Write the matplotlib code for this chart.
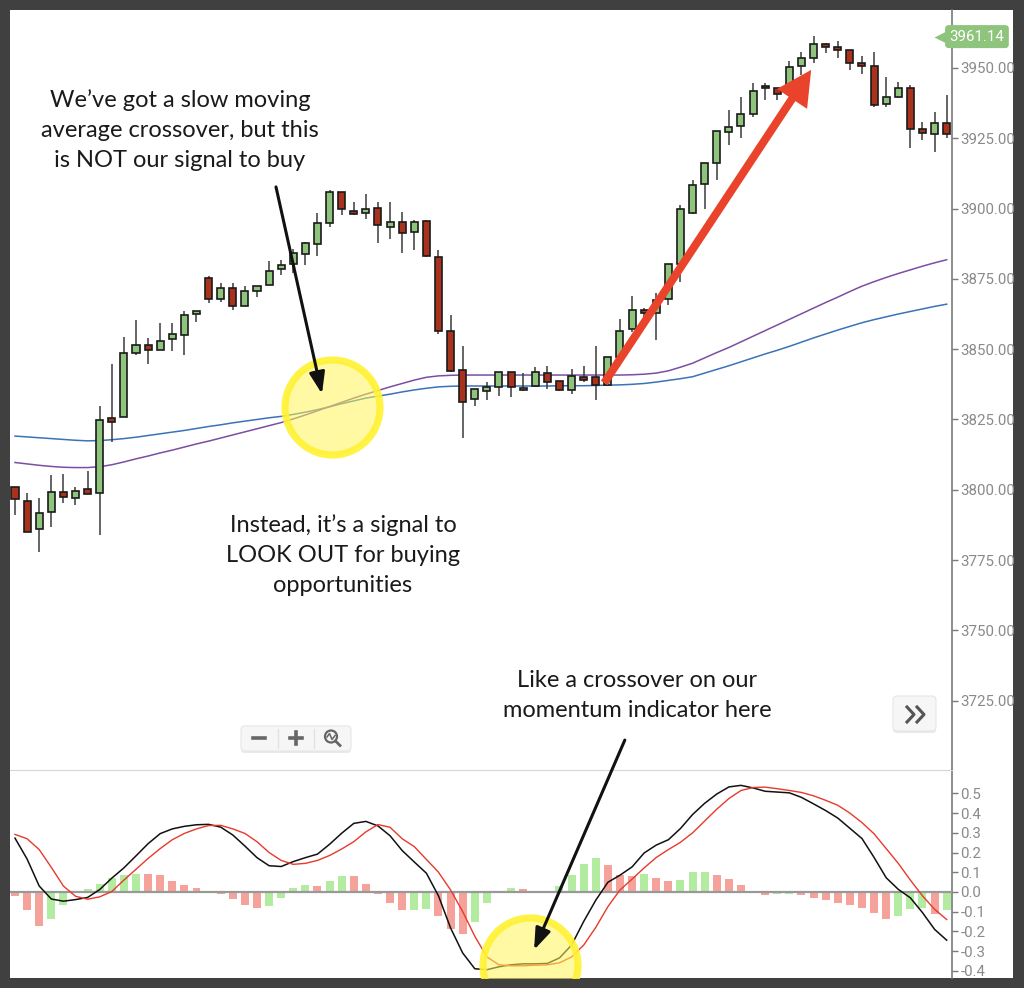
import numpy as np
import matplotlib
matplotlib.use("Agg")
import matplotlib.pyplot as plt
from matplotlib import patches, transforms
from matplotlib.lines import Line2D
from matplotlib.ticker import FormatStrFormatter

plt.rcParams['font.family'] = ['Lato', 'DejaVu Sans']
plt.rcParams['axes.unicode_minus'] = False

# --- price candles ---
opens = [3801.1, 3796.1, 3786.0, 3792.0, 3799.1, 3797.0, 3800.2, 3799.0, 3825.4, 3825.8,
         3848.5, 3851.5, 3849.7, 3853.5, 3855.0, 3862.4, 3875.4, 3867.7, 3871.9, 3865.4,
         3870.8, 3872.8, 3878.5, 3880.3, 3883.9, 3887.4, 3894.8, 3905.8, 3899.3, 3898.5,
         3900.1, 3893.6, 3895.1, 3891.6, 3895.6, 3882.9, 3856.3, 3842.6, 3832.2, 3835.3,
         3836.7, 3841.8, 3835.5, 3836.9, 3841.7, 3838.7, 3835.5, 3840.0, 3840.0, 3837.3,
         3847.1, 3857.1, 3863.9, 3863.0, 3867.7, 3880.3, 3898.5, 3908.7, 3916.3, 3927.3,
         3929.5, 3933.5, 3943.6, 3942.8, 3943.6, 3950.7, 3953.4, 3958.4, 3957.6, 3956.4,
         3951.9, 3950.8, 3937.1, 3939.6, 3942.8, 3928.2, 3926.4, 3930.5]
highs = [3801.1, 3798.8, 3797.0, 3805.2, 3805.5, 3801.1, 3806.7, 3829.9, 3844.6, 3854.5,
         3860.4, 3853.9, 3859.2, 3859.2, 3863.7, 3863.4, 3876.0, 3873.4, 3873.4, 3872.6,
         3872.5, 3881.4, 3881.7, 3885.5, 3888.2, 3898.5, 3906.6, 3905.8, 3902.5, 3905.1,
         3902.5, 3902.5, 3898.9, 3895.9, 3895.9, 3885.3, 3862.2, 3851.1, 3836.0, 3838.4,
         3841.8, 3842.0, 3841.4, 3843.6, 3844.0, 3838.7, 3842.9, 3844.0, 3851.1, 3847.3,
         3860.6, 3868.9, 3864.8, 3869.9, 3880.2, 3901.3, 3910.2, 3916.3, 3927.6, 3935.1,
         3939.6, 3944.6, 3944.6, 3942.8, 3952.6, 3955.6, 3961.4, 3959.0, 3959.7, 3956.4,
         3954.3, 3955.6, 3946.7, 3945.1, 3944.0, 3930.9, 3934.5, 3940.4]
lows = [3791.0, 3784.9, 3778.0, 3786.7, 3795.2, 3794.6, 3798.5, 3783.9, 3816.9, 3825.8,
        3847.9, 3844.7, 3849.7, 3849.4, 3847.9, 3859.8, 3866.3, 3866.9, 3863.9, 3865.4,
        3868.7, 3872.8, 3876.4, 3877.0, 3880.0, 3883.1, 3893.3, 3897.7, 3897.7, 3896.2,
        3887.7, 3889.2, 3884.1, 3885.3, 3882.7, 3855.4, 3841.8, 3818.3, 3829.8, 3831.9,
        3833.4, 3833.0, 3835.3, 3836.7, 3836.0, 3835.3, 3834.1, 3838.5, 3831.9, 3837.0,
        3846.0, 3856.2, 3861.6, 3853.3, 3865.7, 3874.0, 3898.0, 3899.8, 3910.0, 3922.6,
        3925.0, 3932.7, 3938.6, 3938.6, 3943.6, 3947.5, 3951.9, 3955.4, 3953.4, 3949.3,
        3947.9, 3936.2, 3936.2, 3939.2, 3921.4, 3924.4, 3920.0, 3925.0]
closes = [3796.6, 3784.9, 3791.6, 3799.1, 3797.6, 3799.6, 3798.5, 3824.8, 3824.2, 3848.5,
          3851.5, 3849.7, 3853.0, 3855.3, 3862.2, 3863.4, 3867.7, 3871.9, 3865.5, 3870.8,
          3872.5, 3877.9, 3879.9, 3884.1, 3887.7, 3894.8, 3905.8, 3899.8, 3898.1, 3899.8,
          3894.2, 3895.1, 3891.2, 3895.1, 3883.2, 3856.6, 3842.4, 3831.3, 3835.7, 3836.5,
          3841.8, 3836.7, 3836.3, 3841.8, 3838.5, 3835.5, 3840.6, 3839.0, 3837.3, 3847.1,
          3856.6, 3863.9, 3862.8, 3867.5, 3880.2, 3899.8, 3908.4, 3916.3, 3927.6, 3929.1,
          3933.6, 3941.8, 3942.8, 3940.8, 3950.2, 3953.4, 3958.4, 3957.4, 3956.4, 3951.7,
          3950.7, 3936.8, 3939.6, 3942.8, 3928.4, 3927.0, 3930.5, 3926.4]

# moving averages
ma_blue = [3819.1, 3818.8, 3818.5, 3818.2, 3817.9, 3817.6, 3817.4, 3817.5, 3817.8, 3818.2,
           3818.7, 3819.3, 3819.9, 3820.5, 3821.1, 3821.8, 3822.5, 3823.1, 3823.8, 3824.4,
           3825.0, 3825.6, 3826.1, 3826.8, 3827.6, 3828.5, 3829.5, 3830.6, 3831.6, 3832.6,
           3833.3, 3834.0, 3834.8, 3835.5, 3836.1, 3836.6, 3836.8, 3836.9, 3836.9, 3836.9,
           3836.9, 3836.9, 3836.9, 3836.9, 3836.9, 3837.0, 3837.0, 3837.0, 3837.1, 3837.2,
           3837.3, 3837.5, 3837.8, 3838.3, 3838.9, 3839.5, 3840.2, 3841.5, 3842.8, 3844.1,
           3845.5, 3846.9, 3848.3, 3849.6, 3851.0, 3852.5, 3854.0, 3855.4, 3856.8, 3858.1,
           3859.4, 3860.5, 3861.5, 3862.5, 3863.4, 3864.3, 3865.2, 3866.0]
ma_purple = [3809.7, 3809.2, 3808.7, 3808.3, 3808.0, 3807.9, 3807.9, 3808.2, 3808.9, 3809.9,
             3811.0, 3812.0, 3813.1, 3814.1, 3815.2, 3816.3, 3817.3, 3818.4, 3819.5, 3820.6,
             3821.7, 3822.8, 3823.9, 3825.2, 3826.6, 3828.1, 3829.6, 3831.1, 3832.6, 3834.0,
             3835.3, 3836.6, 3837.8, 3839.0, 3840.0, 3840.5, 3840.7, 3840.8, 3840.8, 3840.8,
             3840.8, 3840.8, 3840.8, 3840.8, 3840.8, 3840.8, 3840.8, 3840.8, 3840.8, 3840.8,
             3840.8, 3840.9, 3841.1, 3841.5, 3842.3, 3843.6, 3845.0, 3846.9, 3848.8, 3850.6,
             3852.6, 3854.6, 3856.6, 3858.6, 3860.6, 3862.6, 3864.6, 3866.6, 3868.5, 3870.5,
             3872.4, 3874.0, 3875.5, 3876.9, 3878.2, 3879.5, 3880.7, 3881.8]

# momentum panel
macd = [0.273, 0.167, 0.030, -0.036, -0.047, -0.039, -0.028, 0.012, 0.070, 0.122,
        0.183, 0.245, 0.296, 0.320, 0.333, 0.341, 0.343, 0.329, 0.289, 0.233,
        0.174, 0.133, 0.129, 0.154, 0.174, 0.192, 0.242, 0.298, 0.348, 0.358,
        0.335, 0.285, 0.210, 0.152, 0.095, -0.020, -0.183, -0.310, -0.390, -0.395,
        -0.380, -0.370, -0.365, -0.365, -0.363, -0.335, -0.270, -0.150, -0.042, 0.049,
        0.085, 0.127, 0.198, 0.238, 0.265, 0.322, 0.393, 0.450, 0.497, 0.533,
        0.541, 0.528, 0.511, 0.507, 0.503, 0.480, 0.447, 0.413, 0.375, 0.323,
        0.271, 0.175, 0.072, 0.013, -0.030, -0.105, -0.190, -0.245]
signal = [0.292, 0.270, 0.215, 0.125, 0.030, -0.022, -0.037, -0.025, 0.002, 0.060,
          0.115, 0.170, 0.220, 0.265, 0.297, 0.320, 0.337, 0.338, 0.320, 0.297,
          0.255, 0.200, 0.160, 0.140, 0.145, 0.160, 0.185, 0.218, 0.255, 0.305,
          0.342, 0.328, 0.270, 0.230, 0.165, 0.100, 0.010, -0.100, -0.225, -0.330,
          -0.370, -0.375, -0.375, -0.372, -0.370, -0.360, -0.330, -0.270, -0.180, -0.075,
          0.010, 0.065, 0.122, 0.175, 0.215, 0.252, 0.300, 0.360, 0.420, 0.474,
          0.515, 0.530, 0.532, 0.524, 0.515, 0.505, 0.488, 0.465, 0.440, 0.400,
          0.352, 0.295, 0.220, 0.145, 0.060, -0.020, -0.088, -0.140]
hist = [-0.022, -0.093, -0.173, -0.135, -0.064, -0.004, 0.014, 0.042, 0.071, 0.085,
        0.093, 0.092, 0.085, 0.056, 0.034, 0.020, 0.007, -0.008, -0.037, -0.064,
        -0.080, -0.073, -0.030, 0.020, 0.034, 0.029, 0.056, 0.080, 0.079, 0.042,
        -0.008, -0.056, -0.093, -0.091, -0.086, -0.122, -0.186, -0.216, -0.152, -0.057,
        0.006, 0.019, 0.013, 0.002, 0.001, 0.029, 0.085, 0.144, 0.173, 0.135,
        0.085, 0.080, 0.093, 0.071, 0.056, 0.063, 0.100, 0.101, 0.085, 0.064,
        0.034, 0.000, -0.015, -0.012, -0.008, -0.015, -0.030, -0.042, -0.056, -0.064,
        -0.080, -0.107, -0.137, -0.122, -0.085, -0.080, -0.110, -0.093]

price_ticks = [3725, 3750, 3775, 3800, 3825, 3850, 3875, 3900, 3925, 3950]
macd_ticks = [-0.4, -0.3, -0.2, -0.1, 0.0, 0.1, 0.2, 0.3, 0.4, 0.5]
last_price = 3961.14

# annotation anchors (candle index, value)
ma_cross = (26.2, 3829.3)
macd_cross = (42.6, -0.37)

GREEN = '#8fc47c'
RED = '#a9321c'
W, H = 1024, 988

fig = plt.figure(figsize=(W / 100, H / 100), dpi=100, facecolor='#404040')
px = transforms.Affine2D().scale(1 / W, -1 / H).translate(0, 1) + fig.transFigure
fig.patches.append(patches.Rectangle((10, 10), 1003, 968, transform=px,
                                     fc='white', ec='none', zorder=-1))

ax = fig.add_axes([10 / W, 1 - 770 / H, 942 / W, 760 / H])
axm = fig.add_axes([10 / W, 10 / H, 942 / W, 208 / H], sharex=ax)

x = np.arange(len(opens))
o, h, l, c = map(np.array, (opens, highs, lows, closes))
up = c >= o

# candles
ax.plot(x, ma_blue, color='#3b72b8', lw=1.1, zorder=1.5)
ax.plot(x, ma_purple, color='#7b4ea2', lw=1.1, zorder=1.5)
ax.vlines(x, l, h, color='#3a3a3a', lw=1.1, zorder=2)
ax.bar(x, np.maximum(np.abs(c - o), 0.8), bottom=np.minimum(o, c), width=0.58,
       color=np.where(up, GREEN, RED), edgecolor='#1a1a1a', linewidth=1.2, zorder=3)

# momentum
hv = np.array(hist)
rising = np.diff(hv, prepend=np.inf) >= 0
axm.bar(x, hv, width=0.66, color=np.where(rising, '#b3eba0', '#f5a29b'), zorder=2)
axm.axhline(0, color='#999999', lw=1.6, zorder=3)
axm.plot(x, macd, color='#111111', lw=1.1, zorder=4)
axm.plot(x, signal, color='#e8392b', lw=1.0, zorder=4)

ax.set_xlim(-0.413, 77.44)
ax.set_ylim(3700.36, 3970.6)
axm.set_ylim(-0.437, 0.619)

for a, ticks, fmt in ((ax, price_ticks, '%.2f'), (axm, macd_ticks, '%.1f')):
    a.set_facecolor('none')
    for s in ('top', 'left', 'bottom'):
        a.spines[s].set_visible(False)
    a.spines['right'].set_color('#7a7a7a')
    a.spines['right'].set_linewidth(1.2)
    a.yaxis.tick_right()
    a.set_yticks(ticks)
    a.yaxis.set_major_formatter(FormatStrFormatter(fmt))
    a.tick_params(axis='y', length=4, width=1, color='#7a7a7a', labelcolor='#8a8a8a',
                  labelsize=10.8, pad=2, labelfontfamily='Roboto')
    a.tick_params(axis='x', bottom=False, labelbottom=False)
axm.spines['top'].set_visible(True)
axm.spines['top'].set_color('#d6d6d6')

# last price tag
ytr = ax.get_yaxis_transform()
ax.plot([0.9895], [last_price], marker='<', ms=12, color=GREEN, mec='none',
        transform=ytr, clip_on=False, zorder=6)
ax.text(1.0265, last_price, f'{last_price:.2f}', transform=ytr, ha='center', va='center',
        color='white', fontsize=10.8, family='Roboto', zorder=7,
        bbox=dict(boxstyle='round,pad=0.3,rounding_size=0.25', fc=GREEN, ec='none'))

# highlight circles
for a, (cx, cy) in ((ax, ma_cross), (axm, macd_cross)):
    a.scatter([cx], [cy], s=4679, marker='o', fc=(1.0, 0.96, 0.35, 0.55),
              ec=(1.0, 0.95, 0.2, 0.9), lw=5.2, zorder=5)

# arrows
ax.annotate('', xy=(25.37, 3834.1), xytext=(21.57, 3907.7),
            arrowprops=dict(arrowstyle='-|>,head_width=0.47,head_length=1.3', mutation_scale=10,
                            lw=2.2, color='#111111', shrinkA=0, shrinkB=0), zorder=6)
ax.annotate('', xy=(65.8, 3949.3), xytext=(48.7, 3838.0),
            arrowprops=dict(arrowstyle='simple,head_width=2.6,head_length=2.5,tail_width=0.58',
                            mutation_scale=10, fc='#e9432b', ec='none', shrinkA=0, shrinkB=0),
            zorder=6)
con = patches.ConnectionPatch(xyA=(50.4, 3711.0), coordsA=ax.transData,
                              xyB=(42.9, -0.294), coordsB=axm.transData,
                              arrowstyle='-|>,head_width=0.47,head_length=1.3', mutation_scale=10,
                              lw=2.2, color='#111111', shrinkA=0, shrinkB=0, zorder=6)
fig.add_artist(con)

# notes
note_kw = dict(ha='center', va='center', fontsize=17, linespacing=1.54, color='#1a1a1a',
               family='Lato', transform=px)
fig.text(180, 130, 'We’ve got a slow moving\naverage crossover, but this\nis NOT our signal to buy',
         **note_kw)
fig.text(343, 555, 'Instead, it’s a signal to\nLOOK OUT for buying\nopportunities', **note_kw)
fig.text(637, 695.5, 'Like a crossover on our\nmomentum indicator here', **note_kw)

# zoom buttons and scroll button
fig.patches.append(patches.FancyBboxPatch((241, 728), 110, 25, boxstyle='round,pad=0,rounding_size=4',
                                          transform=px, fc='#e9e9e9', ec='none', zorder=2))
fig.patches.append(patches.FancyBboxPatch((241, 726), 110, 25, boxstyle='round,pad=0,rounding_size=4',
                                          transform=px, fc='#f6f6f6', ec='#e6e6e6', lw=0.8, zorder=2))
for sx in (278, 314):
    fig.add_artist(Line2D([sx, sx], [729, 748], transform=px, color='#e2e2e2', lw=1, zorder=3))
fig.add_artist(Line2D([253, 265], [738, 738], transform=px, color='#666666', lw=2.6, zorder=3))
fig.add_artist(Line2D([290, 302], [738, 738], transform=px, color='#666666', lw=2.6, zorder=3))
fig.add_artist(Line2D([296, 296], [732, 744], transform=px, color='#666666', lw=2.6, zorder=3))
fig.patches.append(patches.Circle((331, 736.5), 6, transform=px, fc='none', ec='#666666',
                                  lw=1.6, zorder=3))
fig.add_artist(Line2D([335.5, 340], [741, 745.5], transform=px, color='#666666', lw=2, zorder=3))
fig.add_artist(Line2D([327, 329.5, 332, 335], [737, 733.5, 739.5, 735.5], transform=px,
                      color='#666666', lw=1.1, zorder=3))

fig.patches.append(patches.FancyBboxPatch((893, 698), 43, 35, boxstyle='round,pad=0,rounding_size=4',
                                          transform=px, fc='#e9e9e9', ec='none', zorder=2))
fig.patches.append(patches.FancyBboxPatch((893, 696), 43, 35, boxstyle='round,pad=0,rounding_size=4',
                                          transform=px, fc='#f6f6f6', ec='#e6e6e6', lw=0.8, zorder=2))
for dx in (0, 10):
    fig.add_artist(Line2D([907 + dx, 914 + dx, 907 + dx], [707, 714.5, 722], transform=px,
                          color='#555555', lw=2.2, zorder=3))

fig.savefig('out.png', dpi=100, facecolor=fig.get_facecolor())
